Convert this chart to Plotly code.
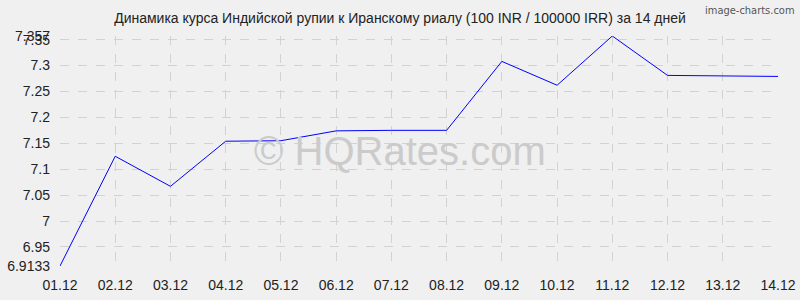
import plotly.graph_objects as go

dates = ["01.12", "02.12", "03.12", "04.12", "05.12", "06.12", "07.12",
         "08.12", "09.12", "10.12", "11.12", "12.12", "13.12", "14.12"]
rates = [6.9133, 7.125, 7.067, 7.154, 7.155, 7.174, 7.175,
         7.175, 7.308, 7.262, 7.357, 7.281, 7.280, 7.279]
y_ticks = [6.9133, 6.95, 7, 7.05, 7.1, 7.15, 7.2, 7.25, 7.3, 7.35, 7.357]
y_labels = ["6.9133", "6.95", "7", "7.05", "7.1", "7.15", "7.2", "7.25", "7.3", "7.35", "7.357"]
title = "Динамика курса Индийской рупии к Иранскому риалу (100 INR / 100000 IRR) за 14 дней"

fig = go.Figure()
fig.add_trace(go.Scatter(x=list(range(len(dates))), y=rates, mode="lines",
                         line=dict(color="#0000ff", width=1), hoverinfo="skip"))

fig.update_layout(
    width=800, height=300,
    margin=dict(l=60, r=22, t=36, b=34),
    paper_bgcolor="#f0f0f0", plot_bgcolor="#f0f0f0",
    showlegend=False,
    font=dict(family="Liberation Sans, Arial, sans-serif", size=14, color="#222"),
    title=dict(text=title, x=0.5, xanchor="center", y=0.94, yanchor="middle",
               font=dict(size=14, color="#222")),
    xaxis=dict(range=[0, len(dates) - 1], tickvals=list(range(len(dates))), ticktext=dates,
               showgrid=True, gridcolor="#d2d2d2", griddash="dash", gridwidth=1,
               zeroline=False, showline=False, ticks="", tickfont=dict(size=14),
               ticklabelstandoff=9, automargin=False),
    yaxis=dict(range=[min(rates), max(rates)], tickvals=y_ticks, ticktext=y_labels,
               showgrid=True, gridcolor="#d2d2d2", griddash="dash", gridwidth=1,
               zeroline=False, showline=False, ticks="", tickfont=dict(size=14),
               ticklabelstandoff=9, automargin=False),
    annotations=[
        dict(text="© HQRates.com", xref="paper", yref="paper", x=0.4735, y=0.5,
             xanchor="center", yanchor="middle", showarrow=False,
             font=dict(size=40, color="#cbcbcb",
                       family="Liberation Sans, Arial, sans-serif")),
        dict(text="image-charts.com", xref="paper", y=1.0, yref="paper", x=1.027,
             yshift=34, xanchor="right", yanchor="top", showarrow=False,
             font=dict(size=11, color="#555", family="DejaVu Sans Condensed, sans-serif")),
    ],
)
fig.write_html("out.html")
